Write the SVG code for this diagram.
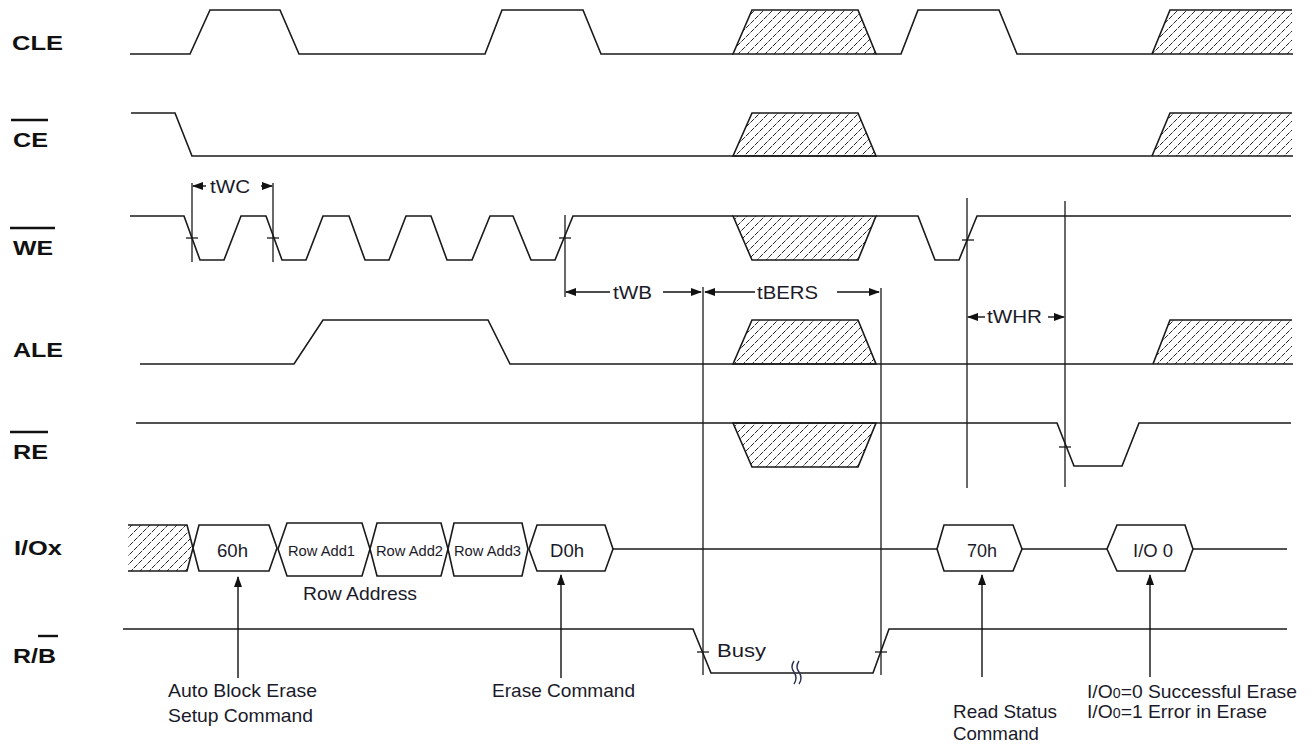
<svg xmlns="http://www.w3.org/2000/svg" width="1311" height="747" viewBox="0 0 1311 747">
<defs>
<pattern id="hatch" patternUnits="userSpaceOnUse" width="9" height="9">
<path d="M-1,10 L10,-1" stroke="#222" stroke-width="1" stroke-dasharray="5,1.2"/>
</pattern>
<marker id="ah" markerUnits="userSpaceOnUse" markerWidth="11" markerHeight="8" refX="10" refY="4" orient="auto">
<path d="M0,0 L11,4 L0,8 z" fill="#111"/>
</marker>
</defs>
<style>
.sig{fill:none;stroke:#1a1a1a;stroke-width:1.6;stroke-linejoin:miter}
.thin{fill:none;stroke:#1a1a1a;stroke-width:1.3}
.hz{fill:url(#hatch);stroke:#1a1a1a;stroke-width:1.6}
.hzf{fill:url(#hatch);stroke:none}
.box{fill:#fff;stroke:#1a1a1a;stroke-width:1.6}
.lbl{font-family:"Liberation Sans",Arial,sans-serif;font-weight:bold;font-size:21px;fill:#111}
.t{font-family:"Liberation Sans",Arial,sans-serif;font-size:19px;fill:#1a1a2a}
.s{font-family:"Liberation Sans",Arial,sans-serif;font-size:15px;fill:#1a1a2a}
.ov{stroke:#111;stroke-width:2.4}
.arr{fill:none;stroke:#111;stroke-width:1.4;marker-end:url(#ah)}
</style>
<rect width="1311" height="747" fill="#fff"/>

<g id="labels">
<text class="lbl" x="12" y="50" textLength="51" lengthAdjust="spacingAndGlyphs">CLE</text>
<text class="lbl" x="13" y="147" textLength="35" lengthAdjust="spacingAndGlyphs">CE</text>
<line class="ov" x1="11" y1="120" x2="48" y2="120"/>
<text class="lbl" x="13" y="255" textLength="40" lengthAdjust="spacingAndGlyphs">WE</text>
<line class="ov" x1="10" y1="228" x2="55" y2="228"/>
<text class="lbl" x="13" y="357" textLength="50" lengthAdjust="spacingAndGlyphs">ALE</text>
<text class="lbl" x="13" y="459" textLength="35" lengthAdjust="spacingAndGlyphs">RE</text>
<line class="ov" x1="10" y1="432" x2="48" y2="432"/>
<text class="lbl" x="14" y="555" textLength="48" lengthAdjust="spacingAndGlyphs">I/Ox</text>
<text class="lbl" x="13" y="663" textLength="43" lengthAdjust="spacingAndGlyphs">R/B</text>
<line class="ov" x1="38" y1="636" x2="58" y2="636"/>
</g>

<g id="CLE">
<polygon class="hz" points="733,54 752,10 858,10 876,54"/>
<polygon class="hzf" points="1152,54 1170,10 1292,10 1292,54"/>
<path class="sig" d="M1152,54 L1170,10 L1292,10"/>
<path class="sig" d="M130,54 L190,54 L210,10 L280,10 L299,54 L485,54 L502,10 L583,10 L601,54 L733,54 M876,54 L901,54 L918,10 L999,10 L1017,54 L1293,54"/>
</g>

<g id="CE">
<polygon class="hz" points="733,156 752,113 858,113 876,156"/>
<polygon class="hzf" points="1152,156 1170,113 1292,113 1292,156"/>
<path class="sig" d="M1152,156 L1170,113 L1292,113"/>
<path class="sig" d="M131,113 L175,113 L192,156 L1293,156"/>
</g>

<g id="WE">
<polygon class="hz" points="733,216 752,260 858,260 876,216"/>
<path class="sig" d="M130,216 L184,216 L200,260 L224,260 L241,216 L266,216 L282,260 L306,260 L323,216 L349,216 L365,260 L389,260 L406,216 L431,216 L447,260 L472,260 L490,216 L513,216 L531,260 L555,260 L573,216 L733,216 M876,216 L918,216 L935,260 L959,260 L977,216 L1291,216"/>
</g>

<g id="ALE">
<polygon class="hz" points="733,364 752,320 858,320 876,364"/>
<polygon class="hzf" points="1153,364 1170,320 1292,320 1292,364"/>
<path class="sig" d="M1153,364 L1170,320 L1292,320"/>
<path class="sig" d="M140,364 L294,364 L323,320 L488,320 L510,364 L1293,364"/>
</g>

<g id="RE">
<polygon class="hz" points="733,423 752,467 858,467 876,423"/>
<path class="sig" d="M136,423 L1057,423 L1074,466 L1122,466 L1139,423 L1291,423"/>
</g>

<g id="IOx">
<polygon class="hzf" points="128,525 187,525 193,548 187,571 128,571"/>
<path class="sig" d="M128,525 L187,525 L193,548 L187,571 L128,571"/>
<polygon class="box" points="193,548 199,525 269,525 277,548 269,571 199,571"/>
<polygon class="box" points="278,549 287,523 362,523 370,549 362,576 287,576"/>
<polygon class="box" points="370,549 377,523 441,523 448,549 441,576 377,576"/>
<polygon class="box" points="448,549 454,523 522,523 528,549 522,576 454,576"/>
<polygon class="box" points="529,549 537,525 605,525 613,549 605,571 537,571"/>
<polygon class="box" points="937,549 944,525 1013,525 1022,549 1013,571 944,571"/>
<polygon class="box" points="1107,549 1117,525 1185,525 1193,549 1185,571 1117,571"/>
<path class="sig" d="M613,549 L937,549 M1022,549 L1107,549 M1193,549 L1287,549"/>
<text class="t" x="217" y="557" textLength="31" lengthAdjust="spacingAndGlyphs">60h</text>
<text class="s" x="288" y="556" textLength="67" lengthAdjust="spacingAndGlyphs">Row Add1</text>
<text class="s" x="376" y="556" textLength="67" lengthAdjust="spacingAndGlyphs">Row Add2</text>
<text class="s" x="454" y="556" textLength="67" lengthAdjust="spacingAndGlyphs">Row Add3</text>
<text class="t" x="550" y="557" textLength="34" lengthAdjust="spacingAndGlyphs">D0h</text>
<text class="t" x="967" y="557" textLength="30" lengthAdjust="spacingAndGlyphs">70h</text>
<text class="t" x="1133" y="557" textLength="40" lengthAdjust="spacingAndGlyphs">I/O 0</text>
<text class="t" x="303" y="600" textLength="114" lengthAdjust="spacingAndGlyphs">Row Address</text>
</g>

<g id="RB">
<path class="sig" d="M123,629 L693,629 L711,673 L873,673 L889,629 L1287,629"/>
<text class="t" x="717" y="657" font-size="22" textLength="49" lengthAdjust="spacingAndGlyphs">Busy</text>
<path d="M794,661 q-4,6 0,11 q4,6 0,12 M799,661 q-4,6 0,11 q4,6 0,12" fill="none" stroke="#2a3050" stroke-width="1.4"/>
</g>

<g id="connectors">
<line class="thin" x1="192" y1="183" x2="192" y2="262"/>
<line class="thin" x1="273" y1="183" x2="273" y2="262"/>
<line class="thin" x1="186" y1="238" x2="198" y2="238"/>
<line class="thin" x1="267" y1="238" x2="279" y2="238"/>
<line class="arr" x1="206" y1="186" x2="193" y2="186"/>
<line class="arr" x1="261" y1="186" x2="272" y2="186"/>
<text class="t" x="210" y="193" font-size="20" textLength="40" lengthAdjust="spacingAndGlyphs">tWC</text>

<line class="thin" x1="565" y1="215" x2="565" y2="297"/>
<line class="thin" x1="559" y1="238" x2="571" y2="238"/>
<line class="arr" x1="610" y1="292" x2="566" y2="292"/>
<text class="t" x="613" y="299" font-size="20" textLength="39" lengthAdjust="spacingAndGlyphs">tWB</text>
<line class="arr" x1="663" y1="292" x2="701" y2="292"/>
<line class="thin" x1="703" y1="287" x2="703" y2="675"/>
<line class="arr" x1="755" y1="292" x2="705" y2="292"/>
<text class="t" x="757" y="299" font-size="20" textLength="61" lengthAdjust="spacingAndGlyphs">tBERS</text>
<line class="arr" x1="837" y1="292" x2="879" y2="292"/>
<line class="thin" x1="881" y1="288" x2="881" y2="675"/>
<line class="thin" x1="697" y1="652" x2="709" y2="652"/>
<line class="thin" x1="875" y1="652" x2="887" y2="652"/>

<line class="thin" x1="967" y1="198" x2="967" y2="488"/>
<line class="thin" x1="1065" y1="201" x2="1065" y2="487"/>
<line class="thin" x1="962" y1="240" x2="974" y2="240"/>
<line class="thin" x1="1059" y1="447" x2="1071" y2="447"/>
<line class="arr" x1="985" y1="317" x2="968" y2="317"/>
<line class="arr" x1="1048" y1="317" x2="1064" y2="317"/>
<text class="t" x="987" y="323" font-size="20" textLength="55" lengthAdjust="spacingAndGlyphs">tWHR</text>

<line class="arr" x1="238" y1="678" x2="238" y2="577"/>
<line class="arr" x1="561" y1="678" x2="561" y2="575"/>
<line class="arr" x1="982" y1="677" x2="982" y2="575"/>
<line class="arr" x1="1150" y1="677" x2="1150" y2="575"/>
</g>

<g id="notes">
<text class="t" x="168" y="697" textLength="149" lengthAdjust="spacingAndGlyphs">Auto Block Erase</text>
<text class="t" x="168" y="722" textLength="145" lengthAdjust="spacingAndGlyphs">Setup Command</text>
<text class="t" x="492" y="697" textLength="143" lengthAdjust="spacingAndGlyphs">Erase Command</text>
<text class="t" x="953" y="718" textLength="104" lengthAdjust="spacingAndGlyphs">Read Status</text>
<text class="t" x="953" y="740" textLength="86" lengthAdjust="spacingAndGlyphs">Command</text>
<text class="t" x="1087" y="698" textLength="210" lengthAdjust="spacingAndGlyphs">I/O<tspan font-size="14">0</tspan>=0 Successful Erase</text>
<text class="t" x="1087" y="718" textLength="180" lengthAdjust="spacingAndGlyphs">I/O<tspan font-size="14">0</tspan>=1 Error in Erase</text>
</g>
</svg>
